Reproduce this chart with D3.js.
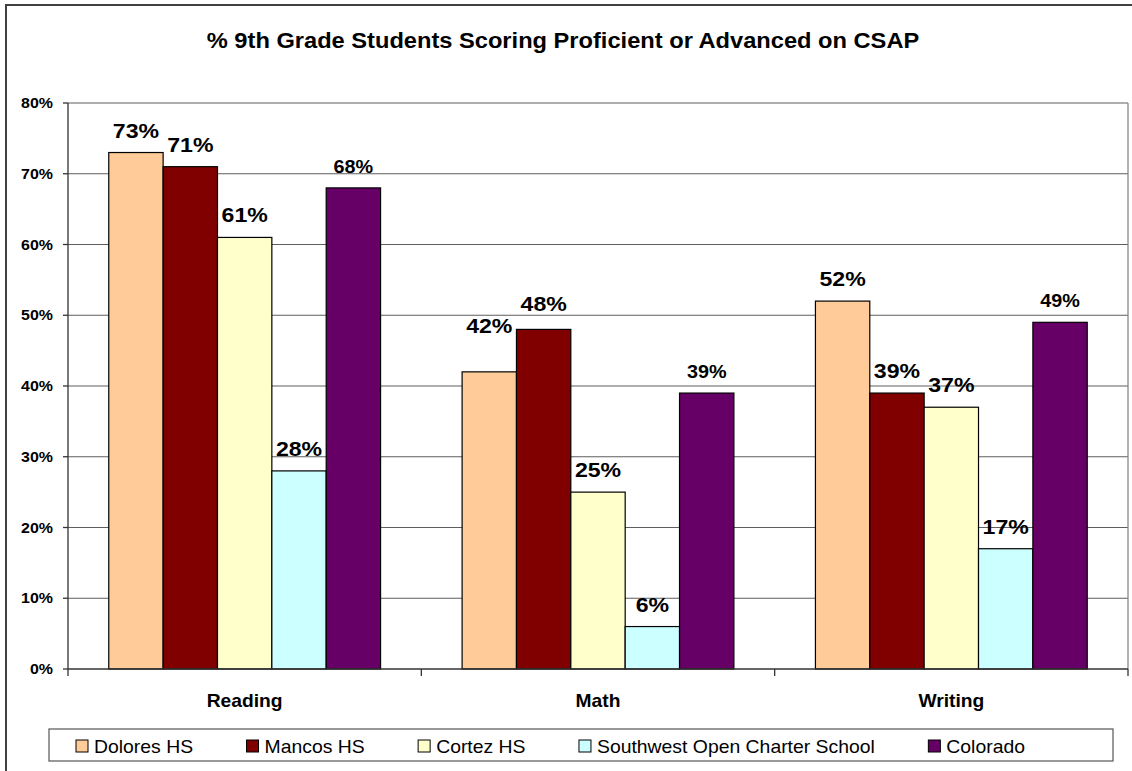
<!DOCTYPE html>
<html><head><meta charset="utf-8">
<script src="https://cdn.jsdelivr.net/npm/d3@7"></script>
<style>body{margin:0;background:#fff}svg{display:block;font-family:"Liberation Sans",Arial,sans-serif}</style>
</head><body><svg id="c" width="1132" height="771"></svg>
<script>
const title = "% 9th Grade Students Scoring Proficient or Advanced on CSAP";
const categories = ["Reading", "Math", "Writing"];
const seriesNames = ["Dolores HS", "Mancos HS", "Cortez HS", "Southwest Open Charter School", "Colorado"];
const seriesColors = ["#FFCC99", "#800000", "#FFFFCC", "#CCFFFF", "#660066"];
const doloresHS = [0.73, 0.42, 0.52];
const mancosHS = [0.71, 0.48, 0.39];
const cortezHS = [0.61, 0.25, 0.37];
const southwestOCS = [0.28, 0.06, 0.17];
const colorado = [0.68, 0.39, 0.49];
const yTicks = [0, 0.1, 0.2, 0.3, 0.4, 0.5, 0.6, 0.7, 0.8];

const seriesValues = [doloresHS, mancosHS, cortezHS, southwestOCS, colorado];
const svg = d3.select("#c");
const L = 68, R = 1128, T = 103, B = 669;
const SX = 1.1; // horizontal text stretch
const pct = d3.format(".0%");
function put(sel, fx, fy, sx = SX) {
  return sel.attr("transform", (d, i) => `translate(${typeof fx === "function" ? fx(d, i) : fx},${typeof fy === "function" ? fy(d, i) : fy}) scale(${sx},1)`);
}

// outer chart border
svg.append("rect").attr("x", 6).attr("y", 5).attr("width", 1140).attr("height", 800)
  .attr("fill", "#fff").attr("stroke", "#404040").attr("stroke-width", 2);

put(svg.append("text").attr("text-anchor", "middle")
  .attr("font-weight", "bold").attr("font-size", 21.5).text(title), 563, 48);

const y = d3.scaleLinear().domain([0, 0.8]).range([B, T]);
const x0 = d3.scaleBand().domain(categories).range([L, R]);
const x1 = d3.scaleBand().domain(seriesNames).range([0, x0.bandwidth()]).paddingOuter(0.75);

// gridlines
svg.append("g").selectAll("line").data(yTicks.slice(1)).join("line")
  .attr("x1", L).attr("x2", R).attr("y1", d => y(d)).attr("y2", d => y(d))
  .attr("stroke", "#5e5e5e").attr("stroke-width", 1.2);
svg.append("line").attr("x1", R).attr("x2", R).attr("y1", T).attr("y2", B)
  .attr("stroke", "#808080").attr("stroke-width", 1.2);

// bars
const rows = [];
categories.forEach((c, ci) => seriesNames.forEach((s, si) =>
  rows.push({c, ci, s, si, v: seriesValues[si][ci]})));
svg.append("g").selectAll("rect").data(rows).join("rect")
  .attr("x", d => x0(d.c) + x1(d.s)).attr("width", x1.bandwidth())
  .attr("y", d => y(d.v)).attr("height", d => B - y(d.v))
  .attr("fill", d => seriesColors[d.si]).attr("stroke", "#000").attr("stroke-width", 1.2);

// y axis
const gy = svg.append("g");
gy.append("line").attr("x1", L).attr("x2", L).attr("y1", T).attr("y2", B + 7).attr("stroke", "#333").attr("stroke-width", 1.3);
gy.selectAll("line.tk").data(yTicks).join("line").attr("class", "tk")
  .attr("x1", L - 5).attr("x2", L).attr("y1", d => y(d)).attr("y2", d => y(d))
  .attr("stroke", "#333").attr("stroke-width", 1.3);
put(gy.selectAll("text").data(yTicks).join("text")
  .attr("text-anchor", "end").attr("font-weight", "bold").attr("font-size", 14.5).text(pct),
  53, d => y(d) + 5);

// x axis
const gx = svg.append("g");
gx.append("line").attr("x1", L).attr("x2", R).attr("y1", B).attr("y2", B).attr("stroke", "#333").attr("stroke-width", 1.3);
const bounds = categories.map(c => x0(c)).slice(1).concat([R]);
gx.selectAll("line.tk").data(bounds).join("line").attr("class", "tk")
  .attr("x1", d => d).attr("x2", d => d)
  .attr("y1", B).attr("y2", B + 7).attr("stroke", "#333").attr("stroke-width", 1.3);
put(gx.selectAll("text").data(categories).join("text")
  .attr("text-anchor", "middle").attr("font-weight", "bold").attr("font-size", 17.5).text(d => d),
  d => x0(d) + x0.bandwidth() / 2, 707);

// data labels
const labelNudge = {"Math|Dolores HS": -24, "Math|Mancos HS": -3};
put(svg.append("g").selectAll("text").data(rows).join("text")
  .attr("text-anchor", "middle").attr("font-weight", "bold")
  .attr("font-size", d => d.s === "Colorado" ? 18 : 21)
  .text(d => pct(d.v)),
  d => x0(d.c) + x1(d.s) + x1.bandwidth() / 2,
  d => y(d.v) - 15 + (labelNudge[d.c + "|" + d.s] || 0));

// legend
const lg = svg.append("g");
lg.append("rect").attr("x", 49).attr("y", 729).attr("width", 1064).attr("height", 32)
  .attr("fill", "#fff").attr("stroke", "#555").attr("stroke-width", 1.2);
const LSX = 1.02, legStart = 76, legEnd = 1025;
const items = seriesNames.map((s, i) => {
  const sw = lg.append("rect").attr("y", 740).attr("width", 12).attr("height", 12)
    .attr("fill", seriesColors[i]).attr("stroke", "#000").attr("stroke-width", 1);
  const t = lg.append("text").attr("font-size", 19).text(s);
  return {sw, t, w: 18 + t.node().getComputedTextLength() * LSX};
});
const gap = (legEnd - legStart - d3.sum(items, d => d.w)) / (items.length - 1);
let lx = legStart;
items.forEach(it => {
  it.sw.attr("x", lx);
  put(it.t, lx + 18, 752.5, LSX);
  lx += it.w + gap;
});
</script></body></html>
